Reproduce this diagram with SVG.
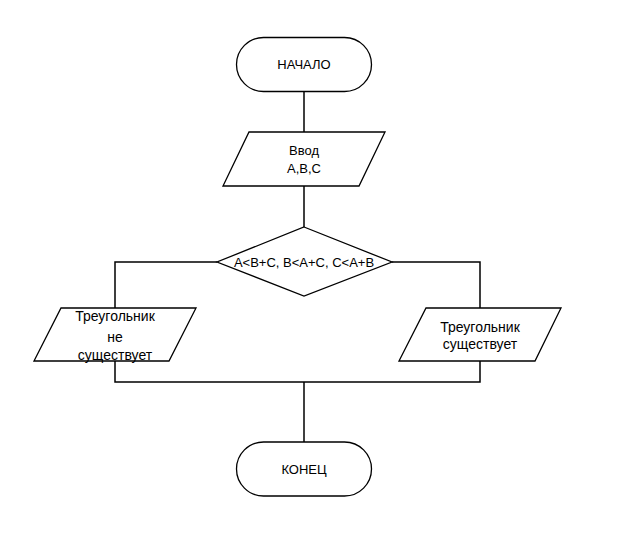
<svg xmlns="http://www.w3.org/2000/svg" width="618" height="538" viewBox="0 0 618 538">
<style>
.s{fill:#fff;stroke:#000;stroke-width:1.3}
.c{fill:none;stroke:#000;stroke-width:1.5}
text{font-family:"Liberation Sans",Arial,sans-serif;font-size:13px;fill:#000;text-anchor:middle}
.w{font-size:14px}
</style>
<rect width="618" height="538" fill="#fff"/>
<g id="connectors">
<path class="c" d="M304,91V132"/>
<path class="c" d="M304,186V227"/>
<path class="c" d="M217,262H115V308"/>
<path class="c" d="M392,262H480V308"/>
<path class="c" d="M115,361V382H480V361"/>
<path class="c" d="M304,382V442"/>
</g>
<g id="start">
<rect class="s" x="236.5" y="37.5" width="135" height="54" rx="27"/>
<text x="304" y="68.5">НАЧАЛО</text>
</g>
<g id="input">
<polygon class="s" points="249,132 385,132 359,186 223,186"/>
<text x="304" y="154.5">Ввод</text>
<text x="304" y="172.5">A,B,C</text>
</g>
<g id="decision">
<polygon class="s" points="304,227 392,262 304,296 217,262"/>
<text x="304" y="266.5">A&lt;B+C, B&lt;A+C, C&lt;A+B</text>
</g>
<g id="no">
<polygon class="s" points="61,308 196,308 169,361 34,361"/>
<text class="w" x="115" y="320.5">Треугольник</text>
<text class="w" x="115" y="341.5">не</text>
<text class="w" x="115" y="359.5">существует</text>
</g>
<g id="yes">
<polygon class="s" points="426,308 561,308 535,361 399,361"/>
<text class="w" x="480" y="331.5">Треугольник</text>
<text class="w" x="480" y="349">существует</text>
</g>
<g id="end">
<rect class="s" x="236.5" y="442" width="135" height="54" rx="27"/>
<text x="304" y="473.5">КОНЕЦ</text>
</g>
</svg>
